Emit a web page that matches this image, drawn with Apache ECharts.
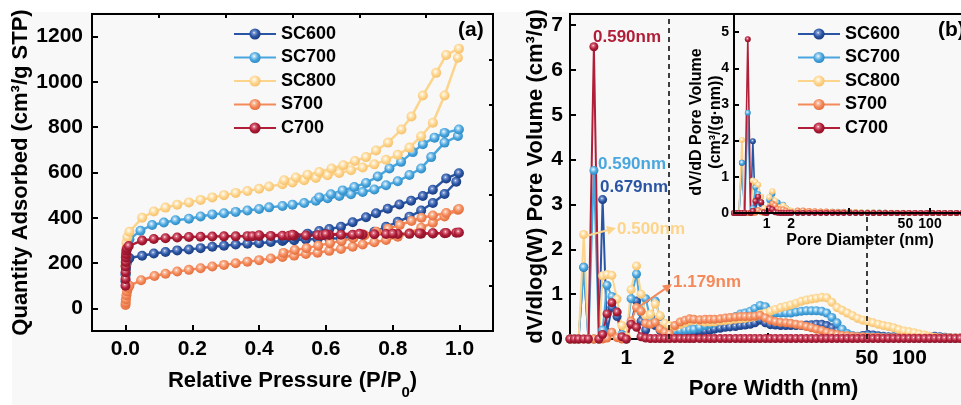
<!DOCTYPE html>
<html><head><meta charset="utf-8">
<script src="https://cdn.jsdelivr.net/npm/echarts@6/dist/echarts.min.js"></script>
<style>html,body{margin:0;padding:0;overflow:hidden;background:#f8f8f8}#c{width:985px;height:405px}</style>
</head><body><div id="c"></div>
<script>
// ---------- DATA ----------
const seriesNames = ['SC600','SC700','SC800','S700','C700'];
// (a) isotherms: [P/P0, Quantity adsorbed], adsorption then desorption
const isoSC600 = [[0.0003,120],[0.0008,150],[0.0015,175],[0.003,195],[0.006,210],[0.012,222],[0.05,232],[0.085,242],[0.12,249],[0.155,256],[0.19,260],[0.225,266],[0.26,272],[0.295,277],[0.33,282],[0.365,285],[0.40,288],[0.435,293],[0.47,298],[0.505,301],[0.54,304],[0.575,306],[0.61,308],[0.645,310],[0.68,316],[0.71,324],[0.745,338],[0.78,360],[0.815,382],[0.85,405],[0.885,432],[0.92,465],[0.955,505],[0.99,559],
  [0.998,597],[0.96,574],[0.92,524],[0.89,496],[0.855,475],[0.82,459],[0.785,440],[0.75,420],[0.72,402],[0.68,380],[0.645,360],[0.61,350],[0.58,342],[0.545,330],[0.51,315],[0.475,305]];
const isoSC700 = [[0.0003,150],[0.0008,190],[0.0015,225],[0.003,255],[0.006,280],[0.012,305],[0.045,343],[0.08,368],[0.115,379],[0.15,389],[0.19,396],[0.225,406],[0.26,415],[0.295,420],[0.33,426],[0.365,432],[0.40,439],[0.43,446],[0.47,452],[0.50,458],[0.535,465],[0.57,475],[0.605,486],[0.64,496],[0.675,504],[0.71,514],[0.745,525],[0.78,544],[0.815,561],[0.85,589],[0.885,618],[0.915,668],[0.955,732],[0.995,761],
  [0.998,790],[0.955,775],[0.925,754],[0.89,725],[0.86,690],[0.825,647],[0.79,618],[0.755,582],[0.72,554],[0.685,536],[0.65,521],[0.615,504],[0.58,490]];
const isoSC800 = [[0.0003,190],[0.0008,230],[0.0015,262],[0.003,290],[0.006,315],[0.012,338],[0.05,400],[0.085,428],[0.12,445],[0.155,458],[0.19,468],[0.225,479],[0.26,490],[0.295,500],[0.33,510],[0.365,518],[0.40,528],[0.43,538],[0.47,548],[0.50,556],[0.535,566],[0.57,576],[0.605,588],[0.64,598],[0.675,610],[0.71,622],[0.745,636],[0.78,656],[0.815,678],[0.85,710],[0.885,760],[0.92,820],[0.955,940],[0.995,1107],
  [0.998,1147],[0.96,1119],[0.93,1040],[0.89,940],[0.856,847],[0.826,790],[0.786,732],[0.75,697],[0.72,668],[0.687,651],[0.652,632],[0.617,618],[0.58,602],[0.545,590],[0.51,578],[0.475,566]];
const isoS700 = [[0.0003,15],[0.0008,25],[0.0015,40],[0.003,58],[0.005,75],[0.008,90],[0.012,100],[0.047,124],[0.087,143],[0.12,153],[0.155,163],[0.19,170],[0.225,177],[0.26,185],[0.295,192],[0.33,199],[0.365,206],[0.40,213],[0.435,220],[0.47,227],[0.505,233],[0.54,240],[0.575,246],[0.61,254],[0.645,262],[0.68,272],[0.71,282],[0.745,292],[0.78,302],[0.815,316],[0.85,332],[0.885,356],[0.92,378],[0.955,406],[0.995,435],
  [0.998,439],[0.96,421],[0.92,410],[0.886,400],[0.856,386],[0.821,368],[0.786,352],[0.751,338],[0.716,323],[0.682,310],[0.647,298],[0.612,288],[0.577,277],[0.542,266],[0.507,258],[0.473,245]];
const isoC700 = [[0.0002,100],[0.0004,130],[0.0006,160],[0.0008,185],[0.001,205],[0.0015,225],[0.002,240],[0.003,255],[0.005,265],[0.01,275],[0.05,300],[0.085,306],[0.12,310],[0.155,313],[0.19,315],[0.225,316],[0.26,317],[0.295,318],[0.33,318],[0.365,319],[0.38,319],[0.40,320],[0.435,320],[0.47,321],[0.49,321],[0.505,322],[0.54,322],[0.575,323],[0.59,323],[0.61,324],[0.645,325],[0.68,325],[0.71,326],[0.745,327],[0.78,328],[0.815,328],[0.85,329],[0.885,330],[0.92,331],[0.955,332],[0.99,334],
  [0.998,335],[0.96,333],[0.92,332],[0.88,331],[0.80,330],[0.70,329],[0.60,327],[0.50,325],[0.40,323]];
const pTicks = [0,0.2,0.4,0.6,0.8,1.0];
const pMinor = [0.1,0.3,0.5,0.7,0.9];
const qTicks = [0,200,400,600,800,1000,1200];
const qMinor = [100,300,500,700,900,1100];

// (b) pore size distribution, dV/dlog(W)
const poreW = [0.40,0.43,0.46,0.50,0.54,0.59,0.64,0.68,0.73,0.79,0.86,0.93,1.00,1.08,1.18,1.27,1.37,1.48,1.60,1.73,1.87,2.02,
  2.2,2.4,2.6,2.8,3.0,3.3,3.6,3.9,4.2,4.6,5.0,5.4,5.9,6.4,6.9,7.5,8.1,8.8,9.6,10.4,
  11.3,12.3,13.4,14.5,15.8,17.2,18.7,20.3,22.0,24.0,26.0,28.3,30.8,33.5,36.4,39.6,43.0,46.8,50.9,55.3,
  60.2,65.4,71.1,77.3,84.1,91.4,99.4,108,117,128,139,151,164,178,194,211,229,249,271,295];
const psdSC600 = [0,0,0,1.60,0,0,0,3.11,0.15,0.7,0.5,0.05,0,0.35,0.85,0.4,0.2,0.5,0.3,0.2,0.12,0.1,
  0.12,0.13,0.14,0.15,0.16,0.17,0.18,0.20,0.22,0.24,0.26,0.27,0.28,0.30,0.31,0.33,0.36,0.42,0.36,0.32,
  0.31,0.30,0.30,0.30,0.30,0.30,0.31,0.32,0.33,0.33,0.30,0.25,0.18,0.12,0.08,0.06,0.05,0.08,0.10,0.09,
  0.07,0.06,0.05,0.05,0.05,0.04,0.04,0.04,0.04,0.05,0.05,0.06,0.05,0.04,0.03,0.02,0.02,0.01,0.01,0.01];
const psdSC700 = [0,0,0,1.60,0,3.76,0,0.2,1.2,0.95,0.6,0.1,0,0.9,1.45,0.6,0.9,0.45,0.85,0.5,0.3,0.2,
  0.18,0.19,0.20,0.21,0.22,0.26,0.30,0.33,0.36,0.40,0.43,0.46,0.50,0.56,0.58,0.62,0.68,0.75,0.72,0.62,
  0.58,0.58,0.58,0.58,0.60,0.62,0.63,0.63,0.63,0.62,0.58,0.48,0.36,0.22,0.12,0.08,0.06,0.05,0.06,0.05,
  0.04,0.04,0.03,0.03,0.03,0.03,0.02,0.02,0.02,0.02,0.02,0.02,0.02,0.01,0.01,0.01,0.01,0.01,0.01,0.01];
const psdSC800 = [0,0,0,2.33,0,0,0,1.41,1.44,1.42,0.89,0.3,0.05,1.1,1.63,1.0,0.52,0.55,0.78,0.52,0.35,0.3,
  0.28,0.32,0.36,0.40,0.42,0.40,0.38,0.38,0.38,0.40,0.41,0.42,0.44,0.45,0.46,0.48,0.50,0.55,0.58,0.62,
  0.66,0.70,0.73,0.76,0.80,0.84,0.87,0.89,0.91,0.93,0.92,0.82,0.70,0.64,0.58,0.52,0.46,0.42,0.39,0.36,
  0.33,0.30,0.28,0.25,0.21,0.18,0.16,0.14,0.11,0.09,0.06,0.04,0.03,0.02,0.02,0.02,0.01,0.01,0.01,0.01];
const psdS700 = [0,0,0,0,0,0,0,0,0.02,0.15,0.03,0,0,0.4,0.70,0.62,0.35,0.33,0.37,0.22,0.15,0.12,
  0.30,0.38,0.42,0.45,0.44,0.43,0.44,0.44,0.44,0.45,0.47,0.48,0.49,0.50,0.50,0.50,0.51,0.53,0.47,0.42,
  0.39,0.37,0.36,0.35,0.33,0.31,0.28,0.25,0.22,0.19,0.15,0.12,0.10,0.08,0.07,0.06,0.05,0.05,0.04,0.04,
  0.04,0.03,0.03,0.03,0.03,0.03,0.02,0.02,0.02,0.02,0.02,0.02,0.02,0.02,0.02,0.02,0.02,0.02,0.02,0.02];
const psdC700 = [0,0,0,0,0,6.52,0,0.1,0.56,0.81,0.60,0.05,0,0.33,0.26,0.05,0.02,0.01,0.01,0.01,0.01,0.01,
  0.01,0.01,0.01,0.01,0.01,0.01,0.01,0.01,0.01,0.01,0.01,0.01,0.01,0.01,0.01,0.01,0.01,0.01,0.01,0.01,
  0.01,0.01,0.01,0.01,0.01,0.01,0.01,0.01,0.01,0.01,0.01,0.01,0.01,0.01,0.01,0.01,0.01,0.01,0.01,0.01,
  0.01,0.01,0.01,0.01,0.01,0.01,0.01,0.01,0.01,0.01,0.01,0.01,0.01,0.01,0.01,0.01,0.01,0.01,0.01,0.01];
const wTicks = [1,2,50,100];
const vTicks = [0,1,2,3,4,5,6,7];
const vMinor = [0.5,1.5,2.5,3.5,4.5,5.5,6.5];

// inset: dV/dD
const insetW = [0.40,0.43,0.46,0.50,0.54,0.59,0.64,0.68,0.73,0.79,0.86,0.93,1.00,1.08,1.18,1.27,1.37,1.48,1.60,1.73,1.87,2.02,
  2.4,2.8,3.3,3.9,4.6,5.4,6.4,7.5,8.8,10.4,12.3,14.5,17.2,20.3,24,28.3,33.5,39.6,46.8,55.3,65.4,77.3,91.4,108,128,151,178,211,249,295];
const dSC600 = [0,0,0,1.39,0,0,0,1.98,0.09,0.38,0.25,0.02,0,0.14,0.31,0.14,0.06,0.15,0.08,0.05,0.03,0.02,
  0.024,0.023,0.021,0.02,0.02,0.02,0.02,0.019,0.021,0.013,0.011,0.009,0.008,0.007,0.006,0.004,0.002,0.001,0.001,0.001,0,0,0,0,0,0,0,0,0,0];
const dSC700 = [0,0,0,1.39,0,2.77,0,0.13,0.71,0.52,0.30,0.05,0,0.36,0.53,0.21,0.29,0.13,0.23,0.13,0.07,0.04,
  0.034,0.033,0.034,0.037,0.038,0.037,0.038,0.036,0.037,0.026,0.02,0.017,0.016,0.013,0.011,0.007,0.003,0.001,0.001,0,0,0,0,0,0,0,0,0,0,0];
const dSC800 = [0,0,0,2.02,0,0,0,0.90,0.86,0.78,0.45,0.14,0.02,0.44,0.60,0.34,0.16,0.16,0.21,0.13,0.08,0.06,
  0.058,0.062,0.053,0.042,0.038,0.034,0.031,0.028,0.027,0.026,0.025,0.023,0.021,0.019,0.017,0.013,0.008,0.006,0.004,0.003,0.002,0.001,0.001,0.001,0,0,0,0,0,0];
const dS700 = [0,0,0,0,0,0,0,0,0.01,0.08,0.02,0,0,0.16,0.26,0.21,0.11,0.10,0.10,0.06,0.03,0.03,
  0.069,0.07,0.057,0.049,0.042,0.039,0.034,0.029,0.026,0.018,0.013,0.01,0.008,0.005,0.003,0.002,0.001,0.001,0,0,0,0,0,0,0,0,0,0,0,0];
const dC700 = [0,0,0,0,0,4.80,0,0.06,0.33,0.45,0.30,0.02,0,0.13,0.10,0.02,0.01,0,0,0,0,0,
  0,0,0,0,0,0,0,0,0,0,0,0,0,0,0,0,0,0,0,0,0,0,0,0,0,0,0,0,0,0];
const dTicks = [0,1,2,3,4,5];
const dMinor = [0.5,1.5,2.5,3.5,4.5];

// ---------- STYLE ----------
const FONT = '"Liberation Sans", Arial, sans-serif';
const colors = {SC600:['#2a55a4','#7f9bd2','#1c3d80'], SC700:['#4aa6de','#b5dcf4','#2f8cc6'], SC800:['#fdd48c','#fff0d2','#f6c26e'], S700:['#f4895a','#fbc4a8','#e4703f'], C700:['#b01e38','#e0768a','#8e1229']};
function ball(name){
  const c = colors[name];
  return {type:'radial', x:0.42, y:0.38, r:0.6, colorStops:[{offset:0,color:'#ffffff'},{offset:0.18,color:c[1]},{offset:0.6,color:c[0]},{offset:1,color:c[2]}]};
}
const isoData = {SC600:isoSC600, SC700:isoSC700, SC800:isoSC800, S700:isoS700, C700:isoC700};
const psdData = {SC600:psdSC600, SC700:psdSC700, SC800:psdSC800, S700:psdS700, C700:psdC700};
const dData = {SC600:dSC600, SC700:dSC700, SC800:dSC800, S700:dS700, C700:dC700};

const axisLineStyle = {show:true, onZero:false, lineStyle:{color:'#000', width:2}};
const bold = {fontFamily:FONT, fontWeight:'bold', color:'#000'};
const plain = v => String(v);

const series = [];
seriesNames.forEach(n => {
  series.push({name:n, type:'line', xAxisIndex:0, yAxisIndex:0, data:isoData[n], symbol:'circle', symbolSize:10,
    showAllSymbol:true, lineStyle:{color:colors[n][0], width:2.5}, itemStyle:{color:ball(n)}, z:2});
});
seriesNames.forEach((n,i) => {
  const s = {name:n, type:'line', xAxisIndex:2, yAxisIndex:2, data:poreW.map((w,k)=>[w,psdData[n][k]]), symbol:'circle', symbolSize:9,
    showAllSymbol:true, lineStyle:{color:colors[n][0], width:2}, itemStyle:{color:ball(n)}, z:2};
  if(i===0){ s.markLine = {silent:true, symbol:'none', label:{show:false}, lineStyle:{color:'#000', type:[5,4], width:1.5}, data:[{xAxis:2},{xAxis:50}]}; }
  series.push(s);
});
seriesNames.forEach((n,i) => {
  const s = {name:n, type:'line', xAxisIndex:3, yAxisIndex:4, data:insetW.map((w,k)=>[w,dData[n][k]]), symbol:'circle', symbolSize:6,
    showAllSymbol:true, lineStyle:{color:colors[n][0], width:1.6}, itemStyle:{color:ball(n)}, zlevel:1, z:3};
  if(i===0){ s.markLine = {silent:true, symbol:'none', label:{show:false}, lineStyle:{color:'#000', type:[5,4], width:1.5}, data:[{xAxis:2},{xAxis:50}]}; }
  series.push(s);
});

const option = {
  animation:false,
  backgroundColor:'#f8f8f8',
  grid:[
    {left:92, top:14, width:401, height:327, show:true, borderColor:'#000', borderWidth:2, backgroundColor:'transparent'},
    {left:570, top:14, width:407, height:327, show:true, borderColor:'#000', borderWidth:2, backgroundColor:'transparent'},
    {left:734, top:14, width:235, height:199, show:true, borderColor:'#000', borderWidth:2, backgroundColor:'#f8f8f8', zlevel:1}
  ],
  xAxis:[
    {gridIndex:0, type:'value', min:-0.1, max:1.1, axisLine:axisLineStyle, splitLine:{show:false},
      axisTick:{inside:true, length:6, lineStyle:{width:2,color:'#000'}, customValues:pTicks},
      axisLabel:{customValues:pTicks, formatter:v=>v.toFixed(1), fontSize:21, margin:8, ...bold},
      name:'Relative Pressure (P/P{s|0})', nameLocation:'middle', nameGap:39,
      nameTextStyle:{fontSize:22, ...bold, rich:{s:{fontSize:15, fontWeight:'bold', fontFamily:FONT, color:'#000', verticalAlign:'bottom', padding:[0,0,-8,0]}}}},
    {gridIndex:0, type:'value', min:-0.1, max:1.1, axisLine:{show:false, onZero:false}, splitLine:{show:false},
      axisTick:{inside:true, length:4, lineStyle:{width:2,color:'#000'}, customValues:pMinor}, axisLabel:{show:false}},
    {gridIndex:1, type:'log', logBase:10, min:0.4, max:300, axisLine:axisLineStyle, splitLine:{show:false}, minorTick:{show:false},
      axisTick:{inside:true, length:6, lineStyle:{width:2,color:'#000'}}, axisLabel:{show:false},
      name:'Pore Width (nm)', nameLocation:'middle', nameGap:39, nameTextStyle:{fontSize:22, ...bold}},
    {gridIndex:2, type:'log', logBase:10, min:0.4, max:300, axisLine:axisLineStyle, splitLine:{show:false}, zlevel:1, z:5,
      axisTick:{inside:true, length:5, lineStyle:{width:2,color:'#000'}}, axisLabel:{show:false}}
  ],
  yAxis:[
    {gridIndex:0, type:'value', min:-100, max:1300, axisLine:axisLineStyle, splitLine:{show:false},
      axisTick:{inside:true, length:6, lineStyle:{width:2,color:'#000'}, customValues:qTicks},
      axisLabel:{customValues:qTicks, formatter:plain, fontSize:21, margin:9, ...bold},
      name:'Quantity Adsorbed (cm³/g STP)', nameLocation:'middle', nameGap:58, nameTextStyle:{fontSize:22, ...bold}},
    {gridIndex:0, type:'value', min:-100, max:1300, axisLine:{show:false, onZero:false}, splitLine:{show:false},
      axisTick:{inside:true, length:4, lineStyle:{width:2,color:'#000'}, customValues:qMinor}, axisLabel:{show:false}},
    {gridIndex:1, type:'value', min:0, max:7.25, axisLine:axisLineStyle, splitLine:{show:false},
      axisTick:{inside:true, length:6, lineStyle:{width:2,color:'#000'}, customValues:vTicks},
      axisLabel:{customValues:vTicks, formatter:plain, fontSize:21, margin:7, ...bold},
      name:'dV/dlog(W) Pore Volume (cm³/g)', nameLocation:'middle', nameGap:22, nameTextStyle:{fontSize:22, ...bold}},
    {gridIndex:1, type:'value', min:0, max:7.25, axisLine:{show:false, onZero:false}, splitLine:{show:false},
      axisTick:{inside:true, length:4, lineStyle:{width:2,color:'#000'}, customValues:vMinor}, axisLabel:{show:false}},
    {gridIndex:2, type:'value', min:0, max:5.5, axisLine:axisLineStyle, splitLine:{show:false}, zlevel:1, z:5,
      axisTick:{inside:true, length:5, lineStyle:{width:2,color:'#000'}, customValues:dTicks},
      axisLabel:{customValues:dTicks, formatter:plain, fontSize:14, margin:5, ...bold}},
    {gridIndex:2, type:'value', min:0, max:5.5, axisLine:{show:false, onZero:false}, splitLine:{show:false}, zlevel:1, z:5,
      axisTick:{inside:true, length:3, lineStyle:{width:1.5,color:'#000'}, customValues:dMinor}, axisLabel:{show:false}}
  ],
  legend:[
    {data:seriesNames, orient:'vertical', left:228, top:20, itemWidth:42, itemHeight:14, itemGap:5.5,
      textStyle:{fontSize:18, ...bold}},
    {data:seriesNames, orient:'vertical', left:792, top:20, itemWidth:42, itemHeight:14, itemGap:5.5, zlevel:1,
      textStyle:{fontSize:18, ...bold}}
  ],
  series:series
};

const chart = echarts.init(document.getElementById('c'), null, {renderer:'canvas'});
chart.setOption(option);

function arrow(x1,y1,x2,y2,color){
  const a = Math.atan2(y2-y1,x2-x1), L=9, W=4.5;
  const bx = x2 - L*Math.cos(a), by = y2 - L*Math.sin(a);
  const nx = -Math.sin(a), ny = Math.cos(a);
  return [
    {type:'line', shape:{x1:x1,y1:y1,x2:bx,y2:by}, style:{stroke:color, lineWidth:2}, z:50},
    {type:'polygon', shape:{points:[[x2,y2],[bx+W*nx,by+W*ny],[bx-W*nx,by-W*ny]]}, style:{fill:color}, z:50}
  ];
}
function txt(x,y,t,size,color,align,extra){
  return Object.assign({type:'text', x:x, y:y, style:{text:t, fontFamily:FONT, fontWeight:'bold', fontSize:size, fill:color, align:align||'left', verticalAlign:'middle'}, z:50}, extra||{});
}
const els = [
  {type:'rect', shape:{x:0,y:0,width:985,height:12}, style:{fill:'#ffffff'}, z:-10, silent:true},
  {type:'rect', shape:{x:0,y:0,width:12,height:405}, style:{fill:'#ffffff'}, z:-10, silent:true},
  txt(458,30,'(a)',21,'#000'),
  txt(938,30,'(b)',21,'#000','left',{zlevel:1}),
  txt(593,37,'0.590nm',17,colors.C700[0]),
  txt(598,164,'0.590nm',17,colors.SC700[0]),
  txt(600,187,'0.679nm',17,colors.SC600[0]),
  txt(617,229,'0.500nm',17,colors.SC800[0]),
  txt(673,282,'1.179nm',17,colors.S700[0]),
  ...arrow(586,236,616,228,colors.SC800[0]),
  ...arrow(640,306,672,284,colors.S700[0]),
  txt(697,122,'dV/dD Pore Volume',16,'#000','center',{rotation:Math.PI/2, zlevel:1}),
  txt(716,122,'(cm³/(g·nm))',16,'#000','center',{rotation:Math.PI/2, zlevel:1}),
  txt(860,241,'Pore Diameter (nm)',16,'#000','center',{zlevel:1})
];
wTicks.forEach(v => {
  const px = chart.convertToPixel({xAxisIndex:2}, v);
  els.push(txt(px,358,String(v),21,'#000','center'));
  const px2 = chart.convertToPixel({xAxisIndex:3}, v);
  els.push(txt(px2,224,String(v),14,'#000','center',{zlevel:1}));
});
chart.setOption({graphic:{elements:els}});
</script></body></html>
